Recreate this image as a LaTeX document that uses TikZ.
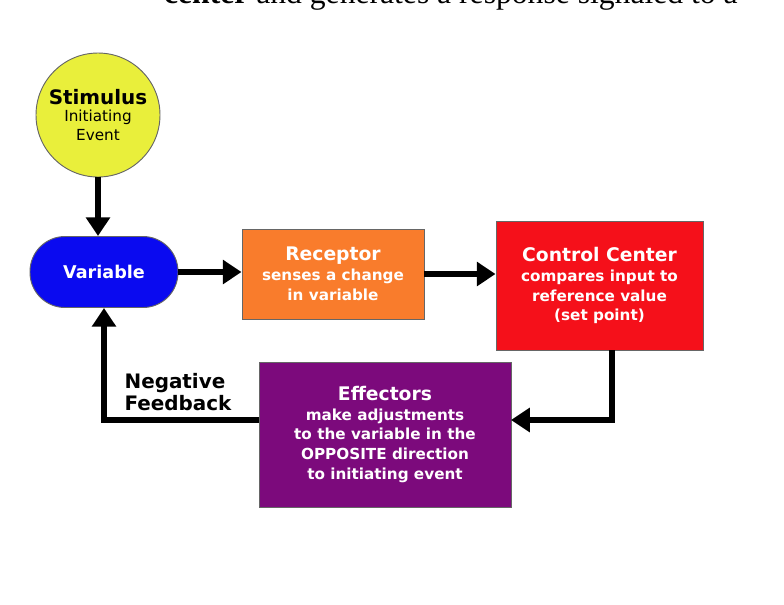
\documentclass[tikz,border=0pt]{standalone}
\usepackage{fontspec}
\setmainfont{Liberation Serif}
\setsansfont{DejaVu Sans}
\usetikzlibrary{arrows.meta}
\definecolor{stimcol}{HTML}{E9EF3B}
\definecolor{varcol}{HTML}{0A0AF0}
\definecolor{reccol}{HTML}{F97C2C}
\definecolor{ctrlcol}{HTML}{F5101A}
\definecolor{effcol}{HTML}{7C0A7C}
\tikzset{
  box/.style={draw=gray!80!black, line width=0.8pt, text=white, align=center,
    font=\sffamily\bfseries\fontsize{13}{17}\selectfont},
  flow/.style={line width=4.5pt, -{Triangle[length=16pt,width=20pt]}}
}
\begin{document}
\begin{tikzpicture}[x=0.03cm, y=-0.03cm]
  \useasboundingbox (0,0) rectangle (784,604);
  \begin{scope}
    \clip (0,0) rectangle (784,604);
    \node[anchor=west, font=\fontsize{27}{29}\selectfont] (top) at (160,-4)
      {\textbf{center} and generates a response signaled to a};
  \end{scope}

  \node[box, circle, fill=stimcol, text=black, minimum size=124*0.03cm, inner sep=0pt,
    font=\sffamily\fontsize{13}{16}\selectfont]
    (stim) at (98,115) {{\bfseries\fontsize{17}{19}\selectfont Stimulus}\\[-1pt]
    Initiating\\Event};
  \node[box, fill=varcol, rounded corners=35*0.03cm, minimum width=148*0.03cm,
    minimum height=71*0.03cm, font=\sffamily\bfseries\fontsize{15}{17}\selectfont]
    (var) at (104,272) {Variable};
  \node[box, fill=reccol, minimum width=182*0.03cm, minimum height=90*0.03cm]
    (rec) at (333,274) {{\fontsize{16}{18}\selectfont Receptor}\\senses a change\\in variable};
  \node[box, fill=ctrlcol, minimum width=207*0.03cm, minimum height=129*0.03cm]
    (ctrl) at (599.5,285.5) {{\fontsize{16}{18}\selectfont Control Center}\\compares input to\\reference value\\(set point)};
  \node[box, fill=effcol, minimum width=252*0.03cm, minimum height=145*0.03cm]
    (eff) at (385,434.5) {{\fontsize{16}{18}\selectfont Effectors}\\make adjustments\\to the variable in the\\OPPOSITE direction\\to initiating event};
  \node[font=\sffamily\bfseries\fontsize{17}{19}\selectfont, align=left]
    (neg) at (178,392) {Negative\\Feedback};

  \coordinate (ctrlout) at (612,350);
  \coordinate (effin) at (511,420);
  \coordinate (effout) at (259,420);
  \draw[flow] (stim.south) -- (stim.south |- var.north);
  \draw[flow] (var.east) -- (var.east -| rec.west);
  \draw[flow] (rec.east) -- (rec.east -| ctrl.west);
  \draw[flow] (ctrlout) |- (effin);
  \draw[flow] (effout) -| (var.south);
\end{tikzpicture}
\end{document}
